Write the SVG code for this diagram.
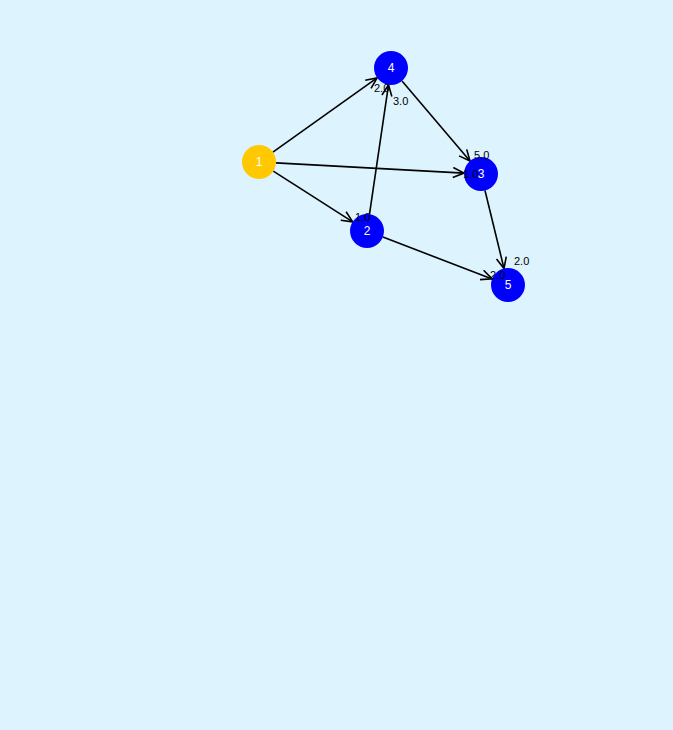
<svg xmlns="http://www.w3.org/2000/svg" width="673" height="730" viewBox="0 0 673 730">
<style>
.e{stroke:#000;stroke-width:1.6;fill:none;marker-end:url(#ah)}
.n{stroke:none}
.nl{font-family:"Liberation Sans",Arial,sans-serif;font-size:12px;fill:#fff;text-anchor:middle}
.el{font-family:"Liberation Sans",Arial,sans-serif;font-size:11px;fill:#000}
</style>
<defs>
<marker id="ah" markerWidth="14" markerHeight="12" refX="12" refY="6" orient="auto" markerUnits="userSpaceOnUse">
<path d="M1,1 L12,6 L1,11" fill="none" stroke="#000" stroke-width="1.6"/>
</marker>
</defs>
<rect width="673" height="730" fill="#ddf3fd"/>
<g id="edges">
<line class="e" x1="272.9" y1="152.1" x2="377.1" y2="77.9"/>
<line class="e" x1="276" y1="162.9" x2="464" y2="173.1"/>
<line class="e" x1="273.3" y1="171.2" x2="352.7" y2="221.9"/>
<line class="e" x1="369.5" y1="214.2" x2="388.5" y2="84.8"/>
<line class="e" x1="402" y1="81" x2="470" y2="161"/>
<line class="e" x1="382.9" y1="237.1" x2="492.1" y2="278.9"/>
<line class="e" x1="485" y1="190.5" x2="504" y2="268.5"/>
</g>
<g id="node1"><circle class="n" cx="259" cy="162" r="17" fill="#ffc800"/><text class="nl" x="259" y="166">1</text></g>
<g id="node2"><circle class="n" cx="367" cy="231" r="17" fill="#0000ff"/><text class="nl" x="367" y="235">2</text></g>
<g id="node3"><circle class="n" cx="481" cy="174" r="17" fill="#0000ff"/><text class="nl" x="481" y="178">3</text></g>
<g id="node4"><circle class="n" cx="391" cy="68" r="17" fill="#0000ff"/><text class="nl" x="391" y="72">4</text></g>
<g id="node5"><circle class="n" cx="508" cy="285" r="17" fill="#0000ff"/><text class="nl" x="508" y="289">5</text></g>
<g id="edge-labels">
<text class="el" x="374" y="92">2.0</text>
<text class="el" x="393" y="105">3.0</text>
<text class="el" x="474" y="159">5.0</text>
<text class="el" x="463" y="178">1.0</text>
<text class="el" x="355" y="221">1.0</text>
<text class="el" x="490" y="279">2.0</text>
<text class="el" x="514" y="265">2.0</text>
</g>
</svg>
